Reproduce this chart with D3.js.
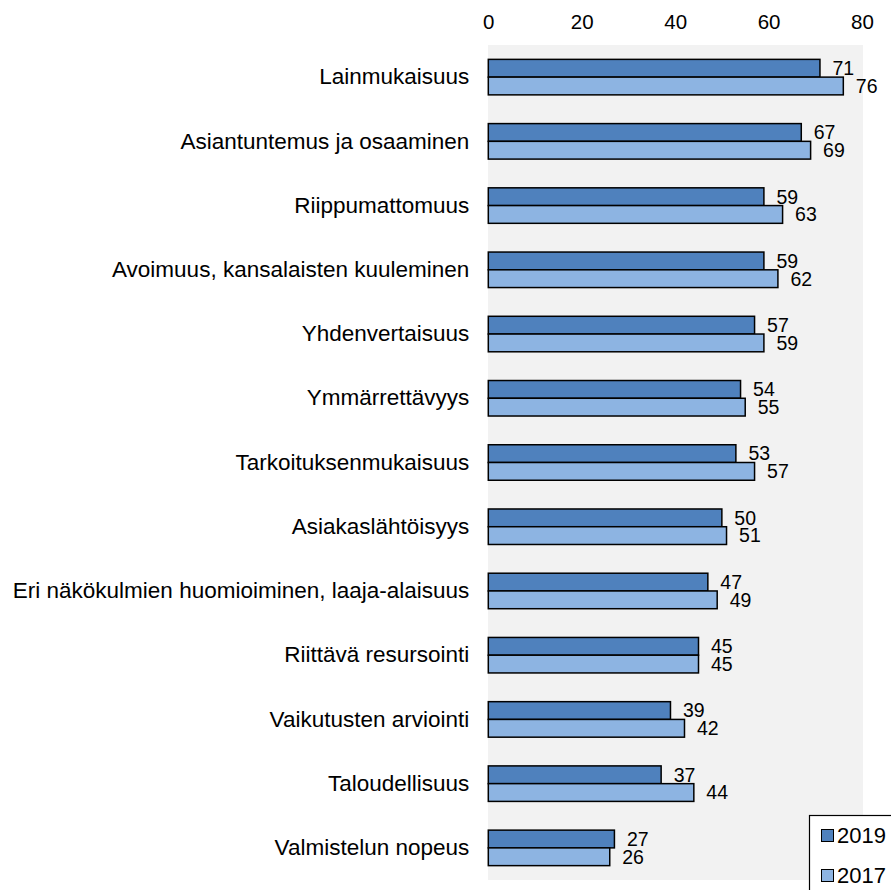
<!DOCTYPE html>
<html><head><meta charset="utf-8">
<script src="https://cdn.jsdelivr.net/npm/d3@7"></script>
<style>body{margin:0;background:#fff}svg{display:block}text{font-family:"Liberation Sans",Arial,sans-serif;fill:#000}</style>
</head><body>
<script>
const categories = ["Lainmukaisuus","Asiantuntemus ja osaaminen","Riippumattomuus","Avoimuus, kansalaisten kuuleminen","Yhdenvertaisuus","Ymmärrettävyys","Tarkoituksenmukaisuus","Asiakaslähtöisyys","Eri näkökulmien huomioiminen, laaja-alaisuus","Riittävä resursointi","Vaikutusten arviointi","Taloudellisuus","Valmistelun nopeus"];
const values2019 = [71,67,59,59,57,54,53,50,47,45,39,37,27];
const values2017 = [76,69,63,62,59,55,57,51,49,45,42,44,26];
const seriesNames = ["2019","2017"];
const tickValues = [0,20,40,60,80];

const W=891,H=890;
const svg=d3.select("body").append("svg").attr("width",W).attr("height",H);
const pL=488.3,pR=862,pT=45,pB=880;
const x=d3.scaleLinear().domain([0,80]).range([pL,pR]);
const y=d3.scaleBand().domain(categories).range([pT,pB]);
const sub=d3.scaleBand().domain(seriesNames).range([0,35.5]);
const colors={"2019":"#4F81BD","2017":"#8DB4E2"};
const FONT="Liberation Sans, Arial, sans-serif";

svg.append("rect").attr("x",488).attr("y",pT).attr("width",863-488).attr("height",pB-pT).attr("fill","#F2F2F2");

const ax=svg.append("g").attr("transform",`translate(0,${pT})`)
 .call(d3.axisTop(x).tickValues(tickValues).tickSize(0).tickPadding(16.5));
ax.select(".domain").remove();
ax.selectAll("text").attr("font-size","20.5px").attr("font-family",FONT).attr("fill","#000");

const ay=svg.append("g").attr("transform",`translate(${pL},0)`)
 .call(d3.axisLeft(y).tickSize(0).tickPadding(19));
ay.select(".domain").remove();
ay.selectAll("text").attr("font-size","22.5px").attr("font-family",FONT).attr("fill","#000");

const data=categories.map((c,i)=>({c,v:{"2019":values2019[i],"2017":values2017[i]}}));
const g=svg.append("g");
seriesNames.forEach(s=>{
  g.selectAll(null).data(data).enter().append("rect")
   .attr("x",x(0)).attr("y",d=>y(d.c)+y.bandwidth()/2-17.75+sub(s))
   .attr("width",d=>x(d.v[s])-x(0)).attr("height",sub.bandwidth())
   .attr("fill",colors[s]).attr("stroke","#000").attr("stroke-width",1.5);
  g.selectAll(null).data(data).enter().append("text")
   .attr("x",d=>x(d.v[s])+12.5).attr("y",d=>y(d.c)+y.bandwidth()/2-17.75+sub(s)+sub.bandwidth()/2)
   .attr("dy","0.35em").attr("font-size","19.5px").text(d=>d.v[s]);
});

const lg=svg.append("g");
lg.append("rect").attr("x",809.5).attr("y",815.5).attr("width",100).attr("height",100).attr("fill","#fff").attr("stroke","#000").attr("stroke-width",1.2);
seriesNames.forEach((s,i)=>{
  const yy=835.5+i*40;
  lg.append("rect").attr("x",821.5).attr("y",yy-6).attr("width",12).attr("height",12).attr("fill",colors[s]).attr("stroke","#000").attr("stroke-width",1);
  lg.append("text").attr("x",837).attr("y",yy).attr("dy","0.36em").attr("font-size","22px").text(s);
});
</script>
</body></html>
